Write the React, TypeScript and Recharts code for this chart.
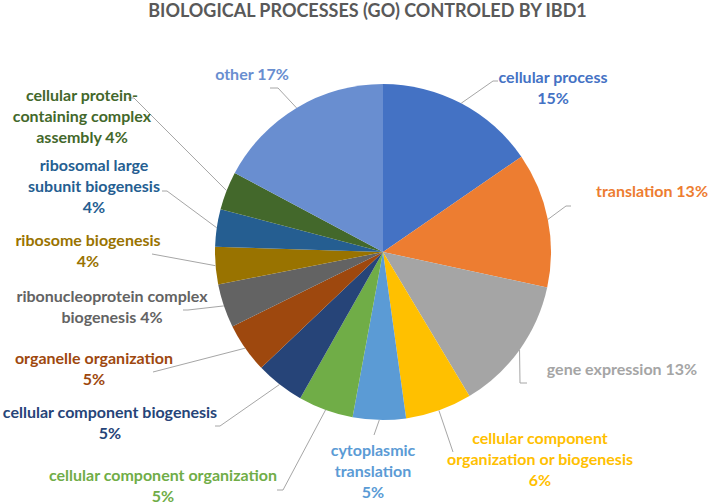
import { PieChart, Pie, Cell } from 'recharts';

const categories = [
  'cellular process',
  'translation',
  'gene expression',
  'cellular component organization or biogenesis',
  'cytoplasmic translation',
  'cellular component organization',
  'cellular component biogenesis',
  'organelle organization',
  'ribonucleoprotein complex biogenesis',
  'ribosome biogenesis',
  'ribosomal large subunit biogenesis',
  'cellular protein-containing complex assembly',
  'other',
];

// share of the annotated processes, in percent
const shares = [15.4, 13.0, 13.0, 6.4, 5.1, 5.3, 4.7, 4.8, 4.2, 3.6, 3.6, 3.7, 17.2];

const sliceColors = [
  '#4472C4', '#ED7D31', '#A5A5A5', '#FFC000', '#5B9BD5', '#70AD47',
  '#264478', '#9E480E', '#636363', '#997300', '#255E91', '#43682B', '#698ED0',
];

const data = categories.map((name, i) => ({ name, value: shares[i] }));

// where each label sits: text centre x, first line y, words per line,
// whether the % goes on its own line, and the leader line bends
const labelLayout = [
  { x: 553, y: 76, breaks: [2], pctLine: true, path: [[493, 81], [498, 81]] },
  { x: 652, y: 190, breaks: [1], pctLine: false, path: [[566, 206], [571, 206]] },
  { x: 622, y: 368, breaks: [2], pctLine: false, path: [[520, 383], [527, 383]] },
  { x: 540, y: 437, breaks: [2, 3], pctLine: true, path: [[453, 452]] },
  { x: 373, y: 449, breaks: [1, 1], pctLine: true, path: [[374, 435]] },
  { x: 163, y: 474, breaks: [3], pctLine: true, path: [[283, 490], [277, 490]] },
  { x: 110, y: 411, breaks: [3], pctLine: true, path: [[220, 426], [215, 426]] },
  { x: 94, y: 357, breaks: [2], pctLine: true, path: [[153, 372]] },
  { x: 112, y: 295, breaks: [2, 1], pctLine: false, path: [[188, 310], [183, 310]] },
  { x: 88, y: 239, breaks: [2], pctLine: true, path: [[152, 254]] },
  { x: 94, y: 164, breaks: [2, 2], pctLine: true, path: [[167, 191], [162, 191]] },
  { x: 82, y: 94, breaks: [2, 2, 1], pctLine: false, path: [[134, 98], [128, 98]] },
  { x: 252, y: 73, breaks: [1], pctLine: false, path: [[278, 88], [270, 88]] },
];

const RAD = Math.PI / 180;
const FONT = 'Lato, "Open Sans", sans-serif';
const LINE_H = 21;

function splitWords(name: string) {
  const out: string[] = [];
  name.split(' ').forEach((w) => {
    const i = w.indexOf('-');
    if (i > 0 && i < w.length - 1) {
      out.push(w.slice(0, i + 1), w.slice(i + 1));
    } else out.push(w);
  });
  return out;
}

function labelLines(name: string, pct: number, breaks: number[], pctLine: boolean) {
  const words = splitWords(name);
  const lines: string[] = [];
  let k = 0;
  breaks.forEach((n) => {
    let s = '';
    words.slice(k, k + n).forEach((w) => {
      s += s === '' || s.endsWith('-') ? w : ' ' + w;
    });
    lines.push(s);
    k += n;
  });
  if (pctLine) lines.push(`${pct}%`);
  else lines[lines.length - 1] += ` ${pct}%`;
  return lines;
}

function renderLabel(props: any) {
  const { cx, cy, midAngle, outerRadius, index, value } = props;
  const lay = labelLayout[index];
  const sx = cx + outerRadius * Math.cos(-midAngle * RAD);
  const sy = cy + outerRadius * Math.sin(-midAngle * RAD);
  const pts = [[sx, sy], ...lay.path];
  const lines = labelLines(categories[index], Math.round(value), lay.breaks, lay.pctLine);
  return (
    <g key={`lbl-${index}`}>
      <polyline
        points={pts.map((p) => p.join(',')).join(' ')}
        fill="none"
        stroke="#A6A6A6"
        strokeWidth={1}
      />
      {lines.map((t, i) => (
        <text
          key={i}
          x={lay.x}
          y={lay.y + i * LINE_H}
          textAnchor="middle"
          dominantBaseline="central"
          fill={sliceColors[index]}
          fontFamily={FONT}
          fontWeight={700}
          fontSize={16}
        >
          {t}
        </text>
      ))}
    </g>
  );
}

export default function App() {
  return (
    <div style={{ position: 'absolute', left: 0, top: 0, width: 709, height: 503, background: '#fff' }}>
      <div
        style={{
          position: 'absolute',
          left: 0,
          top: 0,
          width: 735,
          textAlign: 'center',
          fontFamily: FONT,
          fontWeight: 700,
          fontSize: 18,
          lineHeight: '20px',
          color: '#595959',
          whiteSpace: 'nowrap',
        }}
      >
        BIOLOGICAL PROCESSES (GO) CONTROLED BY IBD1
      </div>
      <PieChart width={709} height={503}>
        <Pie
          data={data}
          dataKey="value"
          nameKey="name"
          cx={378}
          cy={247}
          outerRadius={168}
          startAngle={90}
          endAngle={-270}
          stroke="none"
          label={renderLabel}
          labelLine={false}
          isAnimationActive={false}
        >
          {data.map((d, i) => (
            <Cell key={d.name} fill={sliceColors[i]} />
          ))}
        </Pie>
      </PieChart>
    </div>
  );
}
